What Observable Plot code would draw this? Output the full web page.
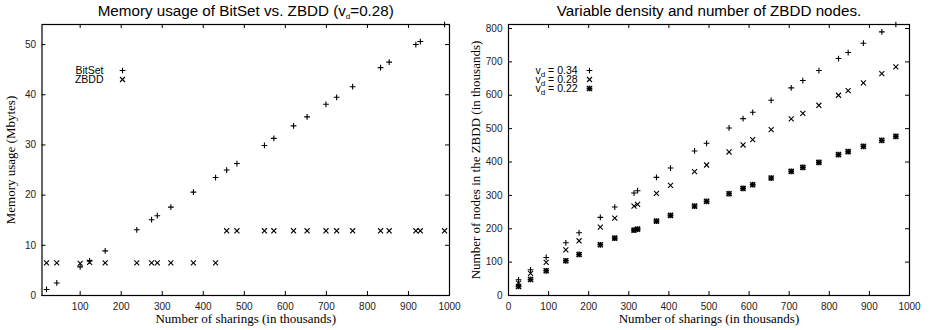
<!DOCTYPE html>
<html>
<head>
<meta charset="utf-8">
<script src="https://cdn.jsdelivr.net/npm/d3@7"></script>
<script src="https://cdn.jsdelivr.net/npm/@observablehq/plot@0.6"></script>
<style>
  html, body { margin: 0; padding: 0; background: #fff; }
  #wrap { display: flex; width: 929px; height: 330px; }
  #wrap svg { display: block; }
</style>
</head>
<body>
<div id="wrap"></div>
<script>
// ---- Left chart data: Memory usage of BitSet vs. ZBDD ----
const leftX   = [18, 43, 100, 123, 161, 238, 274, 288, 321, 376, 430, 457, 482, 549, 572, 620, 653, 699, 725, 764, 832, 853, 918, 929, 988];
const bitset  = [1.2, 2.5, 5.7, 6.9, 8.9, 13.1, 15.1, 15.9, 17.6, 20.6, 23.5, 25.0, 26.3, 29.9, 31.3, 33.8, 35.6, 38.1, 39.5, 41.6, 45.4, 46.5, 50.0, 50.6, 54.0];
const zbdd    = [6.5, 6.5, 6.4, 6.6, 6.5, 6.5, 6.5, 6.5, 6.5, 6.5, 6.5, 12.9, 12.9, 12.9, 12.9, 12.9, 12.9, 12.9, 12.9, 12.9, 12.9, 12.9, 12.9, 12.9, 12.9];
const leftXTicks = [100, 200, 300, 400, 500, 600, 700, 800, 900, 1000];
const leftYTicks = [0, 10, 20, 30, 40, 50];
const leftLegend = ["BitSet", "ZBDD"];

// ---- Right chart data: Variable density and number of ZBDD nodes ----
const rightX = [25, 55, 94, 143, 176, 229, 265, 313, 322, 369, 404, 464, 494, 550, 585, 609, 655, 705, 734, 774, 823, 847, 885, 931, 966];
const v34 = [47, 77, 114, 158, 188, 234, 265, 307, 314, 354, 382, 433, 456, 502, 530, 549, 585, 622, 644, 674, 710, 728, 756, 790, 812];
const v28 = [37, 66, 99, 137, 164, 205, 232, 268, 273, 306, 330, 371, 391, 430, 451, 467, 497, 529, 546, 570, 600, 614, 637, 665, 685];
const v22 = [27, 48, 74, 104, 123, 152, 172, 196, 199, 223, 240, 268, 282, 305, 321, 332, 352, 372, 384, 399, 422, 431, 447, 465, 477];
const rightXTicks = [0, 100, 200, 300, 400, 500, 600, 700, 800, 900, 1000];
const rightYTicks = [0, 100, 200, 300, 400, 500, 600, 700, 800];
const rightLegend = ["v_d = 0.34", "v_d = 0.28", "v_d = 0.22"];

const sans = "'Liberation Sans', Arial, Helvetica, sans-serif";
const serif = "'Liberation Serif', 'Times New Roman', Times, serif";

const H = 330, MT = 24, MB = 35, TL = 4;

function symbolMarks(xs, ys, kind) {
  const data = xs.map((x, i) => ({x, y: ys[i]}));
  const common = {x: "x", y: "y", stroke: "#000", strokeWidth: 1.1, fill: "none"};
  if (kind === "plus") return [Plot.dot(data, {...common, symbol: "plus", r: 2})];
  if (kind === "times") return [Plot.dot(data, {...common, symbol: "times", r: 2.4})];
  return [Plot.dot(data, {...common, symbol: "plus", r: 2, strokeWidth: 1.6}),
          Plot.dot(data, {...common, symbol: "times", r: 2.4, strokeWidth: 1.6})];
}
function legendSymbol(kind, dx, dy) {
  const common = {frameAnchor: "top-left", dx, dy, stroke: "#000", strokeWidth: 1.1, fill: "none"};
  if (kind === "plus") return [Plot.dot([0], {...common, symbol: "plus", r: 2})];
  if (kind === "times") return [Plot.dot([0], {...common, symbol: "times", r: 2.4})];
  return [Plot.dot([0], {...common, symbol: "plus", r: 2, strokeWidth: 1.6}),
          Plot.dot([0], {...common, symbol: "times", r: 2.4, strokeWidth: 1.6})];
}

function chart(o) {
  const fw = o.width - o.marginLeft - o.marginRight, fh = H - MT - MB;
  const marks = [
    Plot.axisX({ticks: o.xTicks, tickFormat: d => String(d), tickSize: 0, tickPadding: 7, label: null, fontSize: 10, fill: "#222"}),
    Plot.axisY({ticks: o.yTicks, tickFormat: d => String(d), tickSize: 0, tickPadding: 6, label: null, fontSize: 10, fill: "#222"}),
    Plot.tickX(o.xTicks, {x: d => d, insetTop: fh - TL, stroke: "#000"}),
    Plot.tickX(o.xTicks, {x: d => d, insetBottom: fh - TL, stroke: "#000"}),
    Plot.tickY(o.yTicks, {y: d => d, insetRight: fw - TL, stroke: "#000"}),
    Plot.tickY(o.yTicks, {y: d => d, insetLeft: fw - TL, stroke: "#000"}),
    Plot.frame({stroke: "#000", strokeWidth: 1.2}),
    Plot.text([o.title], {frameAnchor: "top", dy: -13.5, lineAnchor: "middle", textAnchor: "middle", fontFamily: sans, fontSize: 15.2, fill: "#000"}),
    Plot.text([o.xLabel], {frameAnchor: "bottom", dy: 23, lineAnchor: "middle", textAnchor: "middle", fontFamily: serif, fontSize: 13, fill: "#000"}),
    Plot.text([o.yLabel], {frameAnchor: "left", dx: o.yLabelDx, rotate: -90, lineAnchor: "middle", textAnchor: "middle", fontFamily: serif, fontSize: 13, fill: "#000"})
  ];
  o.series.forEach((s, i) => {
    marks.push(...symbolMarks(o.x, s.values, s.kind));
    marks.push(Plot.text([o.legend[i]], {frameAnchor: "top-left", dx: o.legendTextDx, dy: o.legendDy + i * 9,
      lineAnchor: "middle", textAnchor: o.legendAnchor, fontFamily: sans, fontSize: 10.5, fill: "#000"}));
    marks.push(...legendSymbol(s.kind, o.legendSymDx, o.legendDy + i * 9));
  });
  const svg = Plot.plot({
    width: o.width, height: H,
    marginLeft: o.marginLeft, marginRight: o.marginRight, marginTop: MT, marginBottom: MB,
    x: {domain: o.xDomain},
    y: {domain: o.yDomain},
    style: {fontFamily: sans, fontSize: "10px", color: "#222", background: "#fff"},
    marks
  });
  // render "_d" as a subscript d
  d3.select(svg).selectAll("text").each(function() {
    const s = this.textContent;
    const idx = s.indexOf("_d");
    if (idx < 0 || this.querySelector("tspan")) return;
    const fs = parseFloat(getComputedStyle(this).fontSize) || 10;
    const t = d3.select(this);
    t.text(null);
    t.append("tspan").text(s.slice(0, idx));
    t.append("tspan").attr("dy", (0.28 * fs) + "px").attr("font-size", (0.8 * fs) + "px").text("d");
    t.append("tspan").attr("dy", (-0.28 * fs) + "px").text(s.slice(idx + 2));
  });
  return svg;
}

const left = chart({
  width: 465, marginLeft: 41.5, marginRight: 16,
  xDomain: [7, 1000], yDomain: [0, 54],
  xTicks: leftXTicks, yTicks: leftYTicks,
  x: leftX,
  series: [{values: bitset, kind: "plus"}, {values: zbdd, kind: "times"}],
  legend: leftLegend, legendAnchor: "end", legendTextDx: 103 - 41.5, legendSymDx: 122 - 41.5, legendDy: 70 - MT,
  title: "Memory usage of BitSet vs. ZBDD (v_d=0.28)",
  xLabel: "Number of sharings (in thousands)",
  yLabel: "Memory usage (Mbytes)", yLabelDx: -31
});
const right = chart({
  width: 464, marginLeft: 43, marginRight: 20,
  xDomain: [0, 1000], yDomain: [0, 812],
  xTicks: rightXTicks, yTicks: rightYTicks,
  x: rightX,
  series: [{values: v34, kind: "plus"}, {values: v28, kind: "times"}, {values: v22, kind: "star"}],
  legend: rightLegend, legendAnchor: "start", legendTextDx: 535 - 508, legendSymDx: 589 - 508, legendDy: 70 - MT,
  title: "Variable density and number of ZBDD nodes.",
  xLabel: "Number of sharings (in thousands)",
  yLabel: "Number of nodes in the ZBDD (in thousands)", yLabelDx: -33
});
document.getElementById("wrap").append(left, right);
</script>
</body>
</html>
